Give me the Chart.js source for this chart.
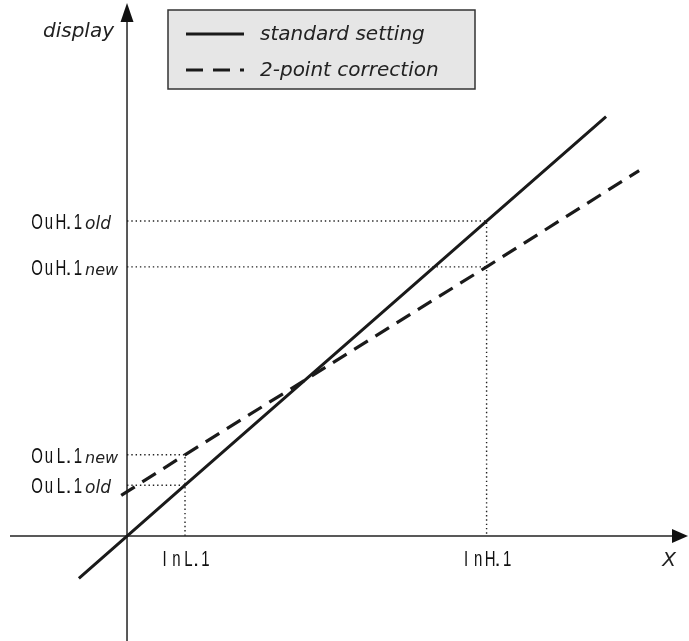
<!DOCTYPE html>
<html>
<head>
<meta charset="utf-8">
<script src="https://cdn.jsdelivr.net/npm/chart.js@4"></script>
<style>
  html, body { margin: 0; padding: 0; background: #fff; }
  #wrap { width: 689px; height: 641px; }
</style>
</head>
<body>
<div id="wrap"><canvas id="chart" width="689" height="641"></canvas></div>
<script>
'use strict';

/// data
const inputLabels = ['InL.1', 'InH.1'];
const inputValues = [1, 6.2];
const outputLabels = ['OuL.1', 'OuH.1'];
const oldOutput = [0.875, 5.43];
const newOutput = [1.4, 4.64];

const standardX = [-0.83, 0, 1, 6.2, 8.26];
const standardY = [-0.73, 0, 0.875, 5.43, 7.23];
const correctionX = [-0.1, 1, 6.2, 8.83];
const correctionY = [0.7, 1.4, 4.64, 6.3];

const seriesNames = ['standard setting', '2-point correction'];
const axisNames = ['X', 'display'];

/// helpers
const toPoints = (xs, ys) => xs.map((x, i) => ({ x: x, y: ys[i] }));

const guideStyle = {
  borderColor: '#222',
  borderWidth: 1.4,
  borderDash: [1.4, 2.9],
  pointRadius: 0,
  fill: false,
  label: '',
};

const guides = [];
inputValues.forEach((xv, i) => {
  // on the high side the "old" line drops to the x axis, on the low side the "new" one
  const dropOld = i === 1;
  guides.push({
    ...guideStyle,
    data: dropOld
      ? [{ x: 0, y: oldOutput[i] }, { x: xv, y: oldOutput[i] }, { x: xv, y: 0 }]
      : [{ x: 0, y: oldOutput[i] }, { x: xv, y: oldOutput[i] }],
  });
  guides.push({
    ...guideStyle,
    data: dropOld
      ? [{ x: 0, y: newOutput[i] }, { x: xv, y: newOutput[i] }]
      : [{ x: 0, y: newOutput[i] }, { x: xv, y: newOutput[i] }, { x: xv, y: 0 }],
  });
});

const SEG_FONT = '22px "Liberation Sans", Arial, sans-serif';
const TEXT_FONT = '"DejaVu Sans", Verdana, sans-serif';

// readout text laid out in fixed cells like a 7-segment display
function readoutWidth(text) {
  let w = 0;
  for (const ch of text) w += ch === '.' ? 5 : 12;
  return w;
}

function drawReadout(ctx, text, x, yMid, align) {
  const total = readoutWidth(text);
  let cx = align === 'center' ? x - total / 2 : x;
  ctx.save();
  ctx.font = SEG_FONT;
  ctx.fillStyle = '#111';
  ctx.textAlign = 'center';
  ctx.textBaseline = 'alphabetic';
  for (const ch of text) {
    const adv = ch === '.' ? 5 : 12;
    ctx.save();
    ctx.translate(cx + (ch === '.' ? 1.5 : adv / 2), yMid + 8);
    ctx.scale(ch === '.' ? 1 : 0.68, 1);
    ctx.fillText(ch, 0, 0);
    ctx.restore();
    cx += adv;
  }
  ctx.restore();
  return total;
}

const diagramPlugin = {
  id: 'diagram',
  beforeDatasetsDraw(chart) {
    const ctx = chart.ctx;
    const xs = chart.scales.x;
    const ys = chart.scales.y;
    const area = chart.chartArea;
    const ox = xs.getPixelForValue(0);
    const oy = ys.getPixelForValue(0);

    ctx.save();
    ctx.strokeStyle = '#222';
    ctx.fillStyle = '#111';
    ctx.lineWidth = 1.5;
    // y axis
    ctx.beginPath();
    ctx.moveTo(ox, area.bottom);
    ctx.lineTo(ox, area.top + 18);
    ctx.stroke();
    ctx.beginPath();
    ctx.moveTo(ox, area.top + 3);
    ctx.lineTo(ox - 6.5, area.top + 22);
    ctx.lineTo(ox + 6.5, area.top + 22);
    ctx.closePath();
    ctx.fill();
    // x axis
    ctx.beginPath();
    ctx.moveTo(area.left + 10, oy);
    ctx.lineTo(area.right - 16, oy);
    ctx.stroke();
    ctx.beginPath();
    ctx.moveTo(area.right - 1, oy);
    ctx.lineTo(area.right - 17, oy - 7);
    ctx.lineTo(area.right - 17, oy + 7);
    ctx.closePath();
    ctx.fill();
    ctx.restore();
  },
  afterDatasetsDraw(chart) {
    const ctx = chart.ctx;
    const xs = chart.scales.x;
    const ys = chart.scales.y;
    const area = chart.chartArea;
    const ox = xs.getPixelForValue(0);
    const oy = ys.getPixelForValue(0);

    ctx.save();
    // y readouts with old/new subscripts
    const drawOut = (label, value, sub) => {
      const py = ys.getPixelForValue(value);
      const w = drawReadout(ctx, label, ox - 96, py, 'left');
      ctx.font = 'oblique ' + (sub === 'old' ? 17 : 16) + 'px ' + TEXT_FONT;
      ctx.fillStyle = '#222';
      ctx.textAlign = 'left';
      ctx.textBaseline = 'alphabetic';
      ctx.fillText(sub, ox - 96 + w + 1, py + 8);
    };
    outputLabels.forEach((lab, i) => {
      drawOut(lab, oldOutput[i], 'old');
      drawOut(lab, newOutput[i], 'new');
    });
    // x readouts
    inputLabels.forEach((lab, i) => {
      drawReadout(ctx, lab, xs.getPixelForValue(inputValues[i]), oy + 22, 'center');
    });

    // axis names
    ctx.font = 'oblique 20px ' + TEXT_FONT;
    ctx.fillStyle = '#222';
    ctx.textBaseline = 'alphabetic';
    ctx.textAlign = 'right';
    ctx.fillText(axisNames[1], ox - 13, area.top + 37);
    ctx.textAlign = 'center';
    ctx.fillText(axisNames[0], area.right - 20, oy + 30);

    // legend box
    const lx = 168, ly = 10, lw = 307, lh = 79;
    ctx.fillStyle = '#e6e6e6';
    ctx.fillRect(lx, ly, lw, lh);
    ctx.strokeStyle = '#333';
    ctx.lineWidth = 1.5;
    ctx.strokeRect(lx, ly, lw, lh);
    const rows = [ly + 24, ly + 60];
    chart.data.datasets.slice(0, 2).forEach((ds, i) => {
      ctx.beginPath();
      ctx.strokeStyle = ds.borderColor;
      ctx.lineWidth = 3;
      ctx.setLineDash(i === 1 ? [17, 10] : []);
      ctx.moveTo(lx + 18, rows[i]);
      ctx.lineTo(lx + 76, rows[i]);
      ctx.stroke();
      ctx.setLineDash([]);
      ctx.font = 'oblique 20px ' + TEXT_FONT;
      ctx.fillStyle = '#222';
      ctx.textAlign = 'left';
      ctx.textBaseline = 'middle';
      ctx.fillText(ds.label, lx + 92, rows[i] + 1);
    });
    ctx.restore();
  },
};

new Chart(document.getElementById('chart'), {
  type: 'line',
  data: {
    datasets: [
      {
        label: seriesNames[0],
        data: toPoints(standardX, standardY),
        borderColor: '#1a1a1a',
        borderWidth: 3,
        pointRadius: 0,
        fill: false,
      },
      {
        label: seriesNames[1],
        data: toPoints(correctionX, correctionY),
        borderColor: '#1a1a1a',
        borderWidth: 3.2,
        borderDash: [16, 9],
        pointRadius: 0,
        fill: false,
      },
      ...guides,
    ],
  },
  options: {
    responsive: false,
    animation: false,
    layout: { padding: 0 },
    plugins: { legend: { display: false }, tooltip: { enabled: false } },
    scales: {
      x: { type: 'linear', display: false, min: -2.19, max: 9.69 },
      y: { type: 'linear', display: false, min: -1.81, max: 9.24 },
    },
  },
  plugins: [diagramPlugin],
});
</script>
</body>
</html>
